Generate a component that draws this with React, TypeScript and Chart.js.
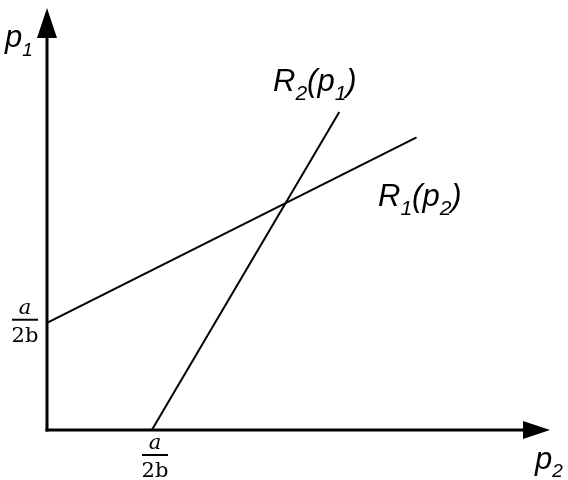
import React, { useEffect, useRef } from "react";
import { Chart, registerables } from "chart.js";

Chart.register(...registerables);

// Data (units: a/2b ≈ 1)
const R1_P2 = [0, 3.49];
const R1_P1 = [1.01, 2.76];
const R2_P2 = [0.99, 2.76];
const R2_P1 = [0, 3.0];
const X_MAX = 4.75;
const Y_MAX = 3.98;
const X_TICK = 1.02; // a/2b on p2 axis
const Y_TICK = 1.04; // a/2b on p1 axis
const TICK_NUM = "a";
const TICK_DEN = "2b";

const SANS = "'Liberation Sans', Arial, sans-serif";
const SERIF = "'DejaVu Serif', 'Liberation Serif', serif";

function drawRich(ctx: CanvasRenderingContext2D, x: number, y: number, parts: [string, boolean][], main: number, sub: number, subDy: number) {
  let cx = x;
  for (const [t, isSub] of parts) {
    ctx.font = `italic ${isSub ? sub : main}px ${SANS}`;
    ctx.fillText(t, cx, isSub ? y + subDy : y);
    cx += ctx.measureText(t).width;
  }
}

const overlay = {
  id: "overlay",
  afterDatasetsDraw(chart: any) {
    const ctx: CanvasRenderingContext2D = chart.ctx;
    const xs = chart.scales.x;
    const ys = chart.scales.y;
    const x0 = xs.getPixelForValue(0);
    const y0 = ys.getPixelForValue(0);
    const xe = xs.getPixelForValue(X_MAX);
    const ye = ys.getPixelForValue(Y_MAX);
    ctx.save();
    ctx.strokeStyle = "#000";
    ctx.fillStyle = "#000";
    ctx.lineWidth = 3;
    ctx.lineCap = "butt";
    // y axis
    ctx.beginPath();
    ctx.moveTo(x0, y0 + 1.5);
    ctx.lineTo(x0, ye + 25);
    ctx.stroke();
    ctx.beginPath();
    ctx.moveTo(x0, ye);
    ctx.lineTo(x0 - 10, ye + 30);
    ctx.lineTo(x0 + 10, ye + 30);
    ctx.closePath();
    ctx.fill();
    // x axis
    ctx.beginPath();
    ctx.moveTo(x0 - 1.5, y0);
    ctx.lineTo(xe - 22, y0);
    ctx.stroke();
    ctx.beginPath();
    ctx.moveTo(xe, y0);
    ctx.lineTo(xe - 27, y0 - 9);
    ctx.lineTo(xe - 27, y0 + 9);
    ctx.closePath();
    ctx.fill();

    // axis titles
    ctx.textBaseline = "alphabetic";
    ctx.textAlign = "left";
    drawRich(ctx, 5, 47, [["p", false], ["1", true]], 31, 19, 9);
    drawRich(ctx, 535, 469, [["p", false], ["2", true]], 31, 19, 8);

    // line labels
    drawRich(ctx, 273, 91, [["R", false], ["2", true], ["(p", false], ["1", true], [")", false]], 31, 21, 9);
    drawRich(ctx, 378, 206, [["R", false], ["1", true], ["(p", false], ["2", true], [")", false]], 31, 21, 9);

    // fraction ticks
    const frac = (cx: number, barY: number) => {
      ctx.textAlign = "center";
      ctx.font = `italic 21px ${SERIF}`;
      ctx.fillText(TICK_NUM, cx, barY - 6);
      ctx.font = `21px ${SERIF}`;
      ctx.fillText(TICK_DEN, cx, barY + 22);
      ctx.lineWidth = 2;
      ctx.beginPath();
      ctx.moveTo(cx - 13, barY);
      ctx.lineTo(cx + 13, barY);
      ctx.stroke();
    };
    frac(25, ys.getPixelForValue(Y_TICK));
    frac(xs.getPixelForValue(X_TICK), y0 + 25);
    ctx.restore();
  },
};

export default function App() {
  const ref = useRef<HTMLCanvasElement | null>(null);
  useEffect(() => {
    if (!ref.current) return;
    const chart = new Chart(ref.current, {
      type: "line",
      data: {
        datasets: [
          {
            label: "R1(p2)",
            data: R1_P2.map((x, i) => ({ x, y: R1_P1[i] })),
            borderColor: "#000",
            borderWidth: 2,
            pointRadius: 0,
          },
          {
            label: "R2(p1)",
            data: R2_P2.map((x, i) => ({ x, y: R2_P1[i] })),
            borderColor: "#000",
            borderWidth: 2,
            pointRadius: 0,
          },
        ],
      },
      options: {
        animation: false,
        responsive: false,
        maintainAspectRatio: false,
        layout: { padding: { left: 47, right: 18, top: 8, bottom: 50 } },
        plugins: { legend: { display: false }, tooltip: { enabled: false } },
        scales: {
          x: { type: "linear", min: 0, max: X_MAX, display: false },
          y: { type: "linear", min: 0, max: Y_MAX, display: false },
        },
      },
      plugins: [overlay],
    });
    return () => chart.destroy();
  }, []);
  return (
    <div style={{ position: "fixed", left: 0, top: 0, width: 568, height: 480, background: "#fff" }}>
      <canvas ref={ref} width={568} height={480} style={{ display: "block" }} />
    </div>
  );
}
